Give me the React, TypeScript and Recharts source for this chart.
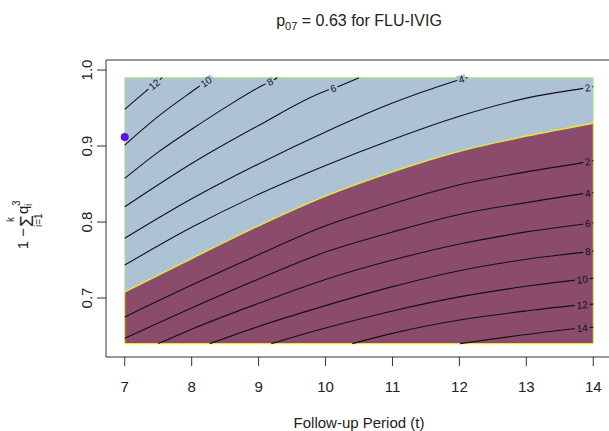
import { ComposedChart, Area, Line, Scatter, XAxis, YAxis, ReferenceArea, ReferenceLine } from 'recharts';

// grid of the contour plot
const tGrid = [7, 8, 9, 10, 11, 12, 13, 14];
const boundary = [0.708, 0.752, 0.795, 0.834, 0.866, 0.893, 0.913, 0.93];
const yLow = 0.64;
const yHigh = 0.99;

const xTicks = [7, 8, 9, 10, 11, 12, 13, 14];
const yTicks = [0.7, 0.8, 0.9, 1.0];

// contour lines above the boundary (blue side)
const up12 = [[7, 0.9483], [7.3, 0.971], [7.44, 0.981], [7.56, 0.99]];
const up10 = [[7, 0.9013], [7.5, 0.939], [8, 0.9715], [8.12, 0.979], [8.215, 0.9845], [8.31, 0.99]];
const up8 = [[7, 0.8575], [7.5, 0.892], [8, 0.922], [8.5, 0.9505], [9, 0.977], [9.07, 0.9803], [9.17, 0.9845], [9.28, 0.99]];
const up6 = [[7, 0.82], [8, 0.877], [9, 0.927], [10, 0.9725], [10.116, 0.976], [10.5, 0.99]];
const up4 = [[7, 0.7786], [8, 0.8305], [9, 0.8765], [10, 0.9185], [11, 0.9565], [11.94, 0.9855], [12.03, 0.988], [12.12, 0.99]];
const up2 = [[7, 0.7434], [8, 0.793], [9, 0.8365], [10, 0.8745], [11, 0.9087], [12, 0.9393], [13, 0.963], [13.917, 0.9768], [14, 0.978]];

// contour lines below the boundary (purple side)
const lo2 = [[7, 0.675], [8, 0.717], [9, 0.757], [10, 0.795], [11, 0.824], [12, 0.849], [13, 0.866], [13.917, 0.8795], [14, 0.881]];
const lo4 = [[7, 0.647], [8, 0.687], [9, 0.725], [10, 0.7605], [11, 0.787], [12, 0.81], [13, 0.8255], [13.917, 0.838], [14, 0.839]];
const lo6 = [[7.5, 0.64], [8, 0.659], [9, 0.693], [10, 0.7245], [11, 0.75], [12, 0.771], [13, 0.787], [13.917, 0.798], [14, 0.799]];
const lo8 = [[8.27, 0.64], [9, 0.6626], [10, 0.69], [11, 0.715], [12, 0.736], [13, 0.751], [13.917, 0.761], [14, 0.762]];
const lo10 = [[9.19, 0.64], [10, 0.6605], [11, 0.683], [12, 0.7015], [13, 0.7155], [13.835, 0.7245], [14, 0.726]];
const lo12 = [[10.4, 0.64], [11, 0.6535], [12, 0.671], [13, 0.683], [13.835, 0.691], [14, 0.692]];
const lo14 = [[12.01, 0.64], [13, 0.652], [13.835, 0.6605], [14, 0.6615]];

const contours = [
  { level: 12, side: 'up', pts: up12, lab: 2 },
  { level: 10, side: 'up', pts: up10, lab: 4 },
  { level: 8, side: 'up', pts: up8, lab: 6 },
  { level: 6, side: 'up', pts: up6, lab: 4 },
  { level: 4, side: 'up', pts: up4, lab: 6 },
  { level: 2, side: 'up', pts: up2, lab: 7 },
  { level: 2, side: 'lo', pts: lo2, lab: 7 },
  { level: 4, side: 'lo', pts: lo4, lab: 7 },
  { level: 6, side: 'lo', pts: lo6, lab: 7 },
  { level: 8, side: 'lo', pts: lo8, lab: 6 },
  { level: 10, side: 'lo', pts: lo10, lab: 5 },
  { level: 12, side: 'lo', pts: lo12, lab: 4 },
  { level: 14, side: 'lo', pts: lo14, lab: 2 },
];

const observed = [{ t: 7, v: 0.912 }];

const BLUE = '#ADC2D5';
const WINE = '#8B4B6C';
const FONT = 'Liberation Sans, Arimo, Arial, sans-serif';

const bandData = tGrid.map((t, i) => ({ t, sky: [boundary[i], yHigh], wine: [yLow, boundary[i]] }));

function labelDot(side: string) {
  return (props: any) => {
    const { cx, cy, index, points, payload } = props;
    if (!payload || !payload.lab) return <g key={`d-${index}`} />;
    let ang = 0;
    if (points) {
      const a = points[Math.max(index - 1, 0)];
      const b = points[Math.min(index + 1, points.length - 1)];
      ang = (Math.atan2(b.y - a.y, b.x - a.x) * 180) / Math.PI;
    }
    const w = payload.lab.length * 6 + 3;
    return (
      <g key={`d-${index}`} transform={`translate(${cx},${cy}) rotate(${ang})`}>
        <rect x={-w / 2} y={-4} width={w} height={8} fill={side === 'up' ? BLUE : WINE} />
        <text x={0} y={3.6} textAnchor="middle" fontSize={10} fontFamily={FONT} fill="#111">
          {payload.lab}
        </text>
      </g>
    );
  };
}

const XTick = ({ x, payload }: any) => (
  <text x={x} y={392} textAnchor="middle" fontSize={15} fontFamily={FONT} fill="#222">
    {payload.value}
  </text>
);

const YTick = ({ y, payload }: any) => (
  <text transform={`translate(92,${y}) rotate(-90)`} textAnchor="middle" fontSize={15} fontFamily={FONT} fill="#222">
    {Number(payload.value).toFixed(1)}
  </text>
);

export default function App() {
  return (
    <div style={{ position: 'absolute', left: 0, top: 0, width: 609, height: 431, overflow: 'hidden', background: '#fff' }}>
      <ComposedChart width={612} height={431} data={bandData} margin={{ top: 60, right: 0, bottom: 0, left: 0 }}>
        <XAxis
          type="number"
          dataKey="t"
          domain={[6.72, 14.28]}
          allowDataOverflow
          ticks={xTicks}
          interval={0}
          tickSize={9}
          axisLine={false}
          tickLine={{ stroke: '#333' }}
          tick={XTick}
          height={74}
        />
        <YAxis
          type="number"
          domain={[0.6224, 1.0132]}
          allowDataOverflow
          ticks={yTicks}
          interval={0}
          tickSize={9}
          axisLine={false}
          tickLine={{ stroke: '#333' }}
          tick={YTick}
          width={106}
        />
        <Area dataKey="sky" type="monotone" fill={BLUE} fillOpacity={1} stroke="#C4EC8C" strokeWidth={1.2} isAnimationActive={false} />
        <Area dataKey="wine" type="monotone" fill={WINE} fillOpacity={1} stroke="#E4E63A" strokeWidth={1.4} isAnimationActive={false} />
        <ReferenceLine segment={[{ x: 7, y: boundary[0] }, { x: 7, y: yHigh }]} stroke="#C4EC8C" />
        <ReferenceLine segment={[{ x: 14, y: boundary[7] }, { x: 14, y: yHigh }]} stroke="#C4EC8C" />
        <ReferenceLine segment={[{ x: 7, y: yLow }, { x: 7, y: boundary[0] }]} stroke="#E4E63A" />
        <ReferenceLine segment={[{ x: 14, y: yLow }, { x: 14, y: boundary[7] }]} stroke="#E4E63A" />
        {contours.map((c) => (
          <Line
            key={`${c.side}${c.level}`}
            data={c.pts.map(([t, v], i) => ({ t, v, lab: i === c.lab ? String(c.level) : undefined }))}
            dataKey="v"
            type="monotone"
            stroke="#111"
            strokeWidth={1.1}
            dot={labelDot(c.side)}
            activeDot={false}
            isAnimationActive={false}
          />
        ))}
        <Scatter
          data={observed}
          dataKey="v"
          isAnimationActive={false}
          shape={(p: any) => <circle cx={p.cx} cy={p.cy} r={4} fill="#5A10E8" />}
        />
        <ReferenceArea x1={6.72} x2={14.28} y1={0.6224} y2={1.0132} fill="none" stroke="#333" ifOverflow="visible" />
      </ComposedChart>
      <svg width={609} height={431} style={{ position: 'absolute', left: 0, top: 0, pointerEvents: 'none' }} fontFamily={FONT} fill="#222">
        <text x={359} y={26} textAnchor="middle" fontSize={16}>
          p<tspan fontSize={11} dy={4}>07</tspan>
          <tspan dy={-4}> = 0.63 for FLU-IVIG</tspan>
        </text>
        <text x={359} y={428} textAnchor="middle" fontSize={15}>
          Follow-up Period (t)
        </text>
        <g transform="translate(28,215) rotate(-90)" fontSize={15}>
          <text x={-13} y={0} textAnchor="end">1 − </text>
          <text x={-12} y={5} fontSize={19}>Σ</text>
          <text x={-7} y={-14} fontSize={10}>k</text>
          <text x={-12} y={14} fontSize={10}>i=1</text>
          <text x={1} y={0}>q</text>
          <text x={9} y={4} fontSize={10}>i</text>
          <text x={9} y={-8} fontSize={10}>3</text>
        </g>
      </svg>
    </div>
  );
}
